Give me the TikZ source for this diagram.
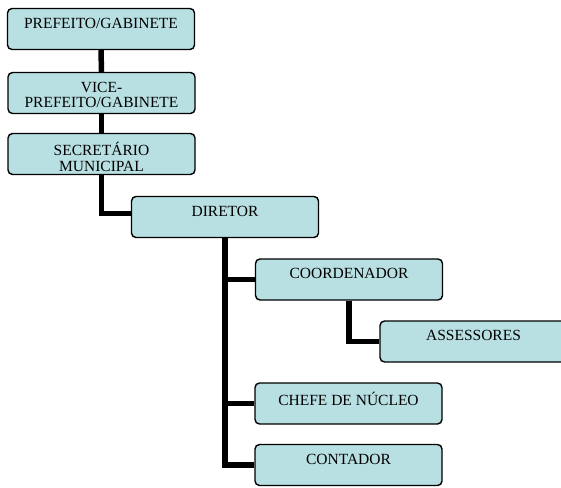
\documentclass[tikz,border=0pt]{standalone}
\usepackage{fontspec}
\setmainfont{Liberation Serif}
\definecolor{boxfill}{RGB}{184,223,226}
\newcommand{\orgtext}[1]{\parbox[c][41pt][t]{187pt}{\centering\fontsize{15.5}{15.5}\selectfont\vspace*{9pt}\strut#1\strut}}
\tikzset{
  orgbox/.style={draw=black, line width=1.4pt, rounded corners=4.5pt, fill=boxfill,
    inner sep=0pt, minimum width=187pt, minimum height=41pt},
  link/.style={line width=5.5pt, draw=black}
}
\begin{document}
\begin{tikzpicture}[x=1pt, y=-1pt]
  \useasboundingbox (0,0) rectangle (561,487);
  \begin{scope}
    \clip (0,0) rectangle (561,487);
    % chain of command down to the director
    \node[orgbox] (pref) at (101,29)    {\orgtext{PREFEITO/GABINETE}};
    \node[orgbox] (vice) at (101.5,93)  {\orgtext{VICE-\\PREFEITO/GABINETE}};
    \node[orgbox] (sec)  at (101.5,154) {\orgtext{SECRETÁRIO\\MUNICIPAL}};
    \node[orgbox] (dir)  at (225,217)   {\orgtext{DIRETOR}};
    % units under the director
    \node[orgbox] (coord) at (349,279.5) {\orgtext{COORDENADOR}};
    \node[orgbox] (ass)   at (473.5,341.5) {\orgtext{ASSESSORES}};
    \node[orgbox] (chefe) at (348.5,403.5) {\orgtext{CHEFE DE NÚCLEO}};
    \node[orgbox] (cont)  at (348.5,465)   {\orgtext{CONTADOR}};
    % connectors
    \draw[link] (pref.south) -- (vice.north);
    \draw[link] (vice.south) -- (sec.north);
    \draw[link] (sec.south) |- ([yshift=3.5pt]dir.west);
    \draw[link] (dir.south) |- (coord.west);
    \draw[link] (dir.south) |- (chefe.west);
    \draw[link] (dir.south) |- (cont.west);
    \draw[link] (coord.south) |- (ass.west);
  \end{scope}
\end{tikzpicture}
\end{document}
